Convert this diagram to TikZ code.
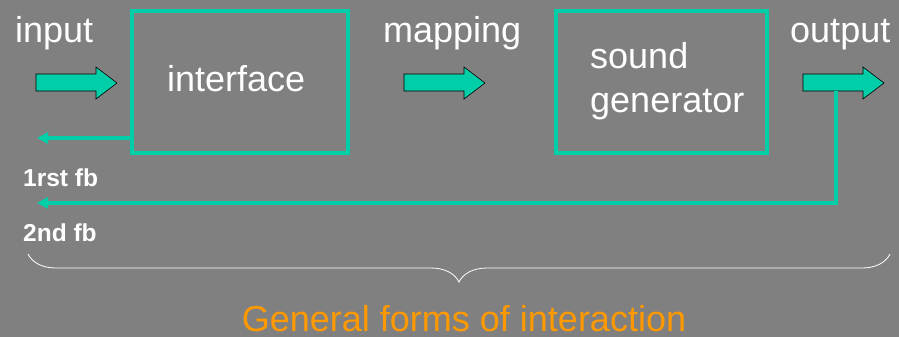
\documentclass[tikz,border=0pt]{standalone}
\usepackage{fontspec}
\setmainfont{Liberation Sans}
\usetikzlibrary{arrows.meta,decorations.pathreplacing,calc}
\definecolor{bg}{RGB}{128,128,128}
\definecolor{tealc}{RGB}{0,206,168}
\definecolor{orng}{RGB}{255,153,0}
\begin{document}
\begin{tikzpicture}[x=1pt,y=-1pt,
  boxst/.style={draw=tealc, line width=3.5pt, inner sep=0pt, minimum height=142pt},
  barrow/.style={fill=tealc, draw=black, line width=0.6pt, line join=miter},
  fbline/.style={draw=tealc, line width=3.5pt, -{Triangle[length=11pt,width=11pt]}},
  txt/.style={text=white, font=\fontsize{36}{44}\selectfont, inner sep=0pt, anchor=base west},
  fbtxt/.style={text=white, font=\bfseries\fontsize{24.5}{30}\selectfont, inner sep=0pt, anchor=base west},
  bracest/.style={draw=white, line width=0.8pt, decorate, decoration={brace, amplitude=28pt, mirror}}]
\fill[bg] (0,0) rectangle (899,337);
\path[use as bounding box] (0,0) rectangle (899,337);

% boxes
\node[boxst, minimum width=216pt] (iface) at (240,82) {};
\node[boxst, minimum width=211pt] (sgen) at (661.5,82) {};

% texts
\node[txt] (tin) at (15,43) {input};
\node[txt] (tmap) at (383,43) {mapping};
\node[txt] (tout) at (790,43) {output};
\node[txt] (tif) at (167,92) {interface};
\node[txt] (tsnd) at (590,68) {sound};
\node[txt] (tgen) at (590,112) {generator};
\node[fbtxt] (fb1) at (23,186) {1rst fb};
\node[fbtxt] (fb2) at (23,241) {2nd fb};

% block arrows
\foreach \dx in {0,368,767}{
  \draw[barrow, shift={(\dx,0)}] (36,74) -- (96,74) -- (96,67) -- (117,83) -- (96,99) -- (96,91) -- (36,91) -- cycle;
}

% feedback lines
\coordinate (y138) at (0,138);
\coordinate (fbonestart) at (iface.west |- y138);
\coordinate (fboneend) at (37,138);
\draw[fbline] (fbonestart) -- (fboneend);
\coordinate (outtap) at (836,91);
\coordinate (fbtwoend) at (37,203);
\draw[fbline, line join=miter] (outtap) |- (fbtwoend);

% brace
\coordinate (brl) at (28,254);
\coordinate (brr) at (890,254);
\draw[bracest] (brl) -- (brr);
\node[text=orng, font=\fontsize{36}{44}\selectfont, inner sep=0pt, anchor=base] (gen) at (464,331) {General forms of interaction};
\end{tikzpicture}
\end{document}
